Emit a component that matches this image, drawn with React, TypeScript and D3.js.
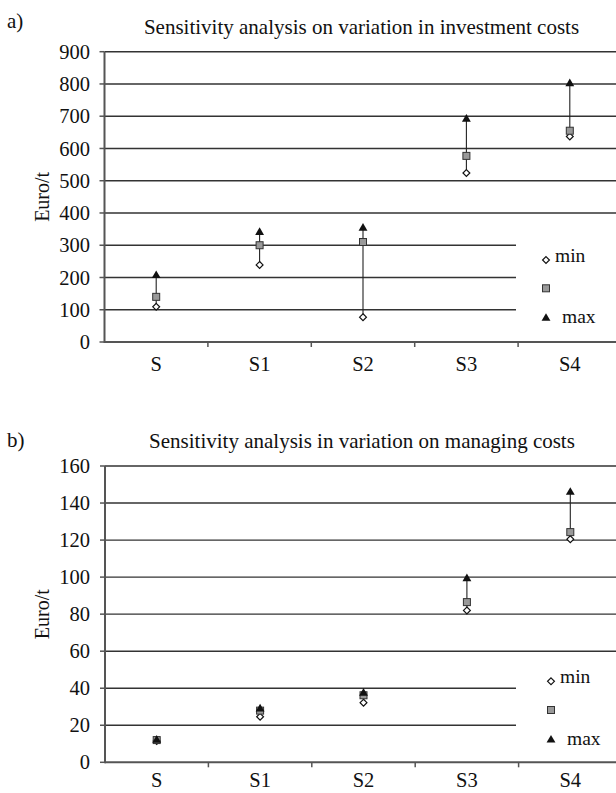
import React from "react";
import * as d3 from "d3";

const categories = ["S", "S1", "S2", "S3", "S4"];

// a) investment costs
const invMin = [109, 239, 77, 524, 637];
const invMid = [140, 300, 310, 577, 655];
const invMax = [206, 340, 353, 691, 801];
const invTicks = [0, 100, 200, 300, 400, 500, 600, 700, 800, 900];

// b) managing costs
const manMin = [11.5, 24.6, 32.2, 82, 120.5];
const manMid = [12, 27.9, 36.2, 86.5, 124.3];
const manMax = [12, 28.8, 37.3, 99.2, 145.8];
const manTicks = [0, 20, 40, 60, 80, 100, 120, 140, 160];

const FONT = "Liberation Serif, Times New Roman, serif";

type PanelProps = {
  letter: string;
  letterY: number;
  title: string;
  titleX: number;
  titleY: number;
  top: number;
  bottom: number;
  left: number;
  labelOffset: number;
  ticks: number[];
  maxV: number;
  mins: number[];
  mids: number[];
  maxs: number[];
  fullGridFrom: number;
  legendX: number;
  legendYs: number[];
};

function Panel(p: PanelProps) {
  const right = p.left + 5 * 103.4;
  const x = d3.scaleBand().domain(categories).range([p.left, right]).padding(0);
  const y = d3.scaleLinear().domain([0, p.maxV]).range([p.bottom, p.top]);
  const cx = (c: string) => (x(c) as number) + x.bandwidth() / 2;
  const gridEnd = 516;
  const diamond = d3.symbol().type(d3.symbolDiamond2).size(30)();
  const triangle = d3.symbol().type(d3.symbolTriangle).size(34)();
  return (
    <g>
      <text x={7} y={p.letterY} fontFamily={FONT} fontSize={21} fill="#111">{p.letter}</text>
      <text x={p.titleX} y={p.titleY} textAnchor="middle" fontFamily={FONT} fontSize={21} fill="#111">{p.title}</text>
      {p.ticks.filter((t) => t > 0).map((t) => (
        <line key={"g" + t} x1={p.left} x2={t >= p.fullGridFrom ? 616 : gridEnd} y1={y(t)} y2={y(t)} stroke="#333" strokeWidth={1.4} />
      ))}
      <line x1={p.left} x2={p.left} y1={p.top} y2={p.bottom + 1} stroke="#555" strokeWidth={2} />
      {p.ticks.map((t) => (
        <g key={"t" + t}>
          <line x1={p.left - 5} x2={p.left} y1={y(t)} y2={y(t)} stroke="#555" strokeWidth={1.5} />
          <text x={90} y={y(t)} dy="0.35em" textAnchor="end" fontFamily={FONT} fontSize={20.5} fill="#111">{t}</text>
        </g>
      ))}
      <text transform={`translate(49,${(p.top + p.bottom) / 2}) rotate(-90)`} textAnchor="middle" fontFamily={FONT} fontSize={20} fill="#111">Euro/t</text>
      <line x1={p.left} x2={616} y1={p.bottom} y2={p.bottom} stroke="#555" strokeWidth={2} />
      {categories.map((c, i) => (
        <g key={"x" + c}>
          {i > 0 && <line x1={x(c) as number} x2={x(c) as number} y1={p.bottom} y2={p.bottom + 5} stroke="#555" strokeWidth={1.5} />}
          <text x={cx(c)} y={p.bottom + p.labelOffset} textAnchor="middle" fontFamily={FONT} fontSize={20.5} fill="#111">{c}</text>
        </g>
      ))}
      {categories.map((c, i) => (
        <g key={"d" + c}>
          <line x1={cx(c)} x2={cx(c)} y1={y(p.mins[i])} y2={y(p.maxs[i])} stroke="#222" strokeWidth={1.1} />
          <path d={diamond as string} transform={`translate(${cx(c)},${y(p.mins[i])})`} fill="#fff" stroke="#111" strokeWidth={1.2} />
          <rect x={cx(c) - 3.5} y={y(p.mids[i]) - 3.5} width={7} height={7} fill="#999" stroke="#333" strokeWidth={1} />
          <path d={triangle as string} transform={`translate(${cx(c)},${y(p.maxs[i])})`} fill="#111" />
        </g>
      ))}
      <path d={diamond as string} transform={`translate(${p.legendX},${p.legendYs[0]})`} fill="#fff" stroke="#111" strokeWidth={1.2} />
      <text x={p.legendX + 9} y={p.legendYs[0] + 2} fontFamily={FONT} fontSize={19.5} fill="#111">min</text>
      <rect x={p.legendX - 3.5} y={p.legendYs[1] - 3.5} width={7} height={7} fill="#999" stroke="#333" strokeWidth={1} />
      <path d={triangle as string} transform={`translate(${p.legendX},${p.legendYs[2]})`} fill="#111" />
      <text x={p.legendX + 16} y={p.legendYs[2] + 5} fontFamily={FONT} fontSize={19.5} fill="#111">max</text>
    </g>
  );
}

export default function App() {
  return (
    <svg width={616} height={793} style={{ position: "absolute", left: 0, top: 0, background: "#fff" }}>
      <rect width={616} height={793} fill="#fff" />
      <Panel
        letter="a)"
        letterY={28}
        title="Sensitivity analysis on variation in investment costs"
        titleX={361.5}
        titleY={34}
        top={51.7}
        bottom={342}
        left={104.5}
        labelOffset={29}
        ticks={invTicks}
        maxV={900}
        mins={invMin}
        mids={invMid}
        maxs={invMax}
        fullGridFrom={400}
        legendX={546}
        legendYs={[260, 288.3, 318.3]}
      />
      <Panel
        letter="b)"
        letterY={447}
        title="Sensitivity analysis in variation on managing costs"
        titleX={362}
        titleY={448}
        top={466}
        bottom={762.3}
        left={105}
        labelOffset={25}
        ticks={manTicks}
        maxV={160}
        mins={manMin}
        mids={manMid}
        maxs={manMax}
        fullGridFrom={60}
        legendX={551}
        legendYs={[681.3, 710, 740]}
      />
    </svg>
  );
}
